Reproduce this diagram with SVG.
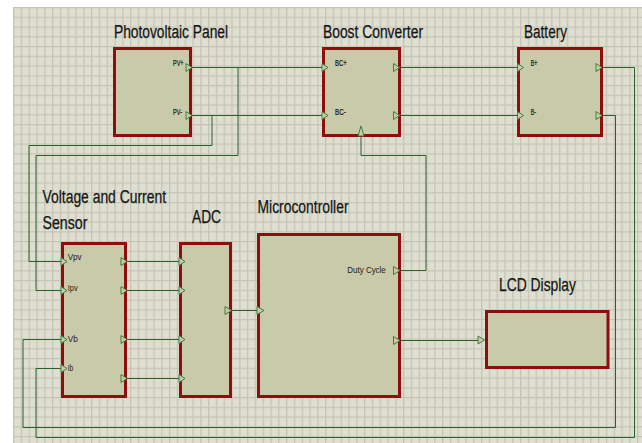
<svg xmlns="http://www.w3.org/2000/svg" width="642" height="443" viewBox="0 0 642 443">
<style>
.blk{fill:#c9caa9;stroke:#8e0d0d;stroke-width:3}
.w{fill:none;stroke:#2b612b;stroke-width:1}
.pin{fill:#c9caa9;stroke:#3f7f3f;stroke-width:1}
.t{font-family:"Liberation Sans",Arial,sans-serif;font-size:18px;fill:#151515;stroke:#151515;stroke-width:0.25}
.p{font-family:"Liberation Sans",Arial,sans-serif;font-size:8.5px;fill:#111;stroke:#111;stroke-width:0.2}
.s{font-family:"Liberation Sans",Arial,sans-serif;font-size:9.5px;fill:#1a1a1a}
</style>
<defs>
<pattern id="grid" x="13" y="7" width="7.8" height="9.75" patternUnits="userSpaceOnUse">
<rect width="7.8" height="9.75" fill="#dfdfd1"/>
<path d="M0.6 0V9.75M0 0.6H7.8" stroke="#c4c5b5" stroke-width="1.4" fill="none"/>
</pattern>
</defs>
<rect width="642" height="443" fill="#ffffff"/>
<rect x="13" y="7" width="629" height="436" fill="url(#grid)"/>

<g id="connectors">
<path class="w" d="M192 67.5H322"/>
<path class="w" d="M238 67.5V155.5H36V290.5H61"/>
<path class="w" d="M192 115.5H322"/>
<path class="w" d="M212 115.5V145.5H29V261.5H61"/>
<path class="w" d="M401 67.5H517"/>
<path class="w" d="M401 115.5H517"/>
<path class="w" d="M603 67.5H634.5V437.5H36V368.5H61"/>
<path class="w" d="M603 115.5H615.5V427.5H23V339.5H61"/>
<path class="w" d="M127 261.5H179M127 290.5H179M127 339.5H179M127 378.5H179"/>
<path class="w" d="M232 310.5H257"/>
<path class="w" d="M400 270.5H426V155.5H361V137"/>
<path class="w" d="M400 340.5H478"/>
</g>

<g id="pv-panel">
<rect class="blk" x="114.5" y="48.5" width="76" height="87"/>
<polygon class="pin" points="186,63.5 192,67.5 186,71.5"/>
<polygon class="pin" points="186,111.5 192,115.5 186,119.5"/>
<text class="p" x="173" y="65.7" textLength="10.5" lengthAdjust="spacingAndGlyphs">PV+</text>
<text class="p" x="173" y="114.5" textLength="9" lengthAdjust="spacingAndGlyphs">PV-</text>
<text class="t" x="114" y="38" textLength="114" lengthAdjust="spacingAndGlyphs">Photovoltaic Panel</text>
</g>

<g id="boost-converter">
<rect class="blk" x="323.5" y="48.5" width="76" height="87"/>
<polygon class="pin" points="322,63.5 328,67.5 322,71.5"/>
<polygon class="pin" points="322,111.5 328,115.5 322,119.5"/>
<polygon class="pin" points="393.5,63.5 399.5,67.5 393.5,71.5"/>
<polygon class="pin" points="393.5,111.5 399.5,115.5 393.5,119.5"/>
<polygon class="pin" points="358,136 361,126 364,136"/>
<text class="p" x="335" y="65.7" textLength="11.7" lengthAdjust="spacingAndGlyphs">BC+</text>
<text class="p" x="335" y="115" textLength="10.7" lengthAdjust="spacingAndGlyphs">BC-</text>
<text class="t" x="323" y="38" textLength="100" lengthAdjust="spacingAndGlyphs">Boost Converter</text>
</g>

<g id="battery">
<rect class="blk" x="518.5" y="48.5" width="83" height="87"/>
<polygon class="pin" points="517.5,63.5 523.5,67.5 517.5,71.5"/>
<polygon class="pin" points="517.5,111.5 523.5,115.5 517.5,119.5"/>
<polygon class="pin" points="596,63.5 602,67.5 596,71.5"/>
<polygon class="pin" points="596,111.5 602,115.5 596,119.5"/>
<text class="p" x="530.7" y="65.7" textLength="6.6" lengthAdjust="spacingAndGlyphs">B+</text>
<text class="p" x="530.7" y="115" textLength="5.3" lengthAdjust="spacingAndGlyphs">B-</text>
<text class="t" x="524" y="38" textLength="43" lengthAdjust="spacingAndGlyphs">Battery</text>
</g>

<g id="sensor">
<rect class="blk" x="62.5" y="243.5" width="63" height="153"/>
<polygon class="pin" points="61,257.5 67,261.5 61,265.5"/>
<polygon class="pin" points="61,286.5 67,290.5 61,294.5"/>
<polygon class="pin" points="61,335.5 67,339.5 61,343.5"/>
<polygon class="pin" points="61,364.5 67,368.5 61,372.5"/>
<polygon class="pin" points="121,257.5 127,261.5 121,265.5"/>
<polygon class="pin" points="121,286.5 127,290.5 121,294.5"/>
<polygon class="pin" points="121,335.5 127,339.5 121,343.5"/>
<polygon class="pin" points="121,374.5 127,378.5 121,382.5"/>
<text class="s" x="67.7" y="259.5" textLength="14" lengthAdjust="spacingAndGlyphs">Vpv</text>
<text class="s" x="67.7" y="291" textLength="10" lengthAdjust="spacingAndGlyphs">Ipv</text>
<text class="s" x="67.7" y="341.7" textLength="10" lengthAdjust="spacingAndGlyphs">Vb</text>
<text class="s" x="67.7" y="370.5" textLength="5.6" lengthAdjust="spacingAndGlyphs">Ib</text>
<text class="t" x="42.5" y="203" textLength="123.5" lengthAdjust="spacingAndGlyphs">Voltage and Current</text>
<text class="t" x="42.5" y="228.5" textLength="45" lengthAdjust="spacingAndGlyphs">Sensor</text>
</g>

<g id="adc">
<rect class="blk" x="180.5" y="243.5" width="50" height="153"/>
<polygon class="pin" points="179,257.5 185,261.5 179,265.5"/>
<polygon class="pin" points="179,286.5 185,290.5 179,294.5"/>
<polygon class="pin" points="179,335.5 185,339.5 179,343.5"/>
<polygon class="pin" points="179,374.5 185,378.5 179,382.5"/>
<polygon class="pin" points="225,306.5 231.5,310.5 225,314.5"/>
<text class="t" x="192" y="223" textLength="29" lengthAdjust="spacingAndGlyphs">ADC</text>
</g>

<g id="microcontroller">
<rect class="blk" x="258.5" y="234.5" width="141" height="162"/>
<polygon class="pin" points="257,306.5 264,310.5 257,314.5"/>
<polygon class="pin" points="393.5,266.5 400,270.5 393.5,274.5"/>
<polygon class="pin" points="393.5,336.5 400,340.5 393.5,344.5"/>
<text class="s" x="347.3" y="272.5" font-size="11" textLength="38.5" lengthAdjust="spacingAndGlyphs">Duty Cycle</text>
<text class="t" x="257.5" y="213" textLength="91" lengthAdjust="spacingAndGlyphs">Microcontroller</text>
</g>

<g id="lcd-display">
<rect class="blk" x="486.5" y="311.5" width="121.5" height="56"/>
<polygon class="pin" points="478,336 484.5,340 478,344"/>
<text class="t" x="499" y="291" textLength="77" lengthAdjust="spacingAndGlyphs">LCD Display</text>
</g>
</svg>
